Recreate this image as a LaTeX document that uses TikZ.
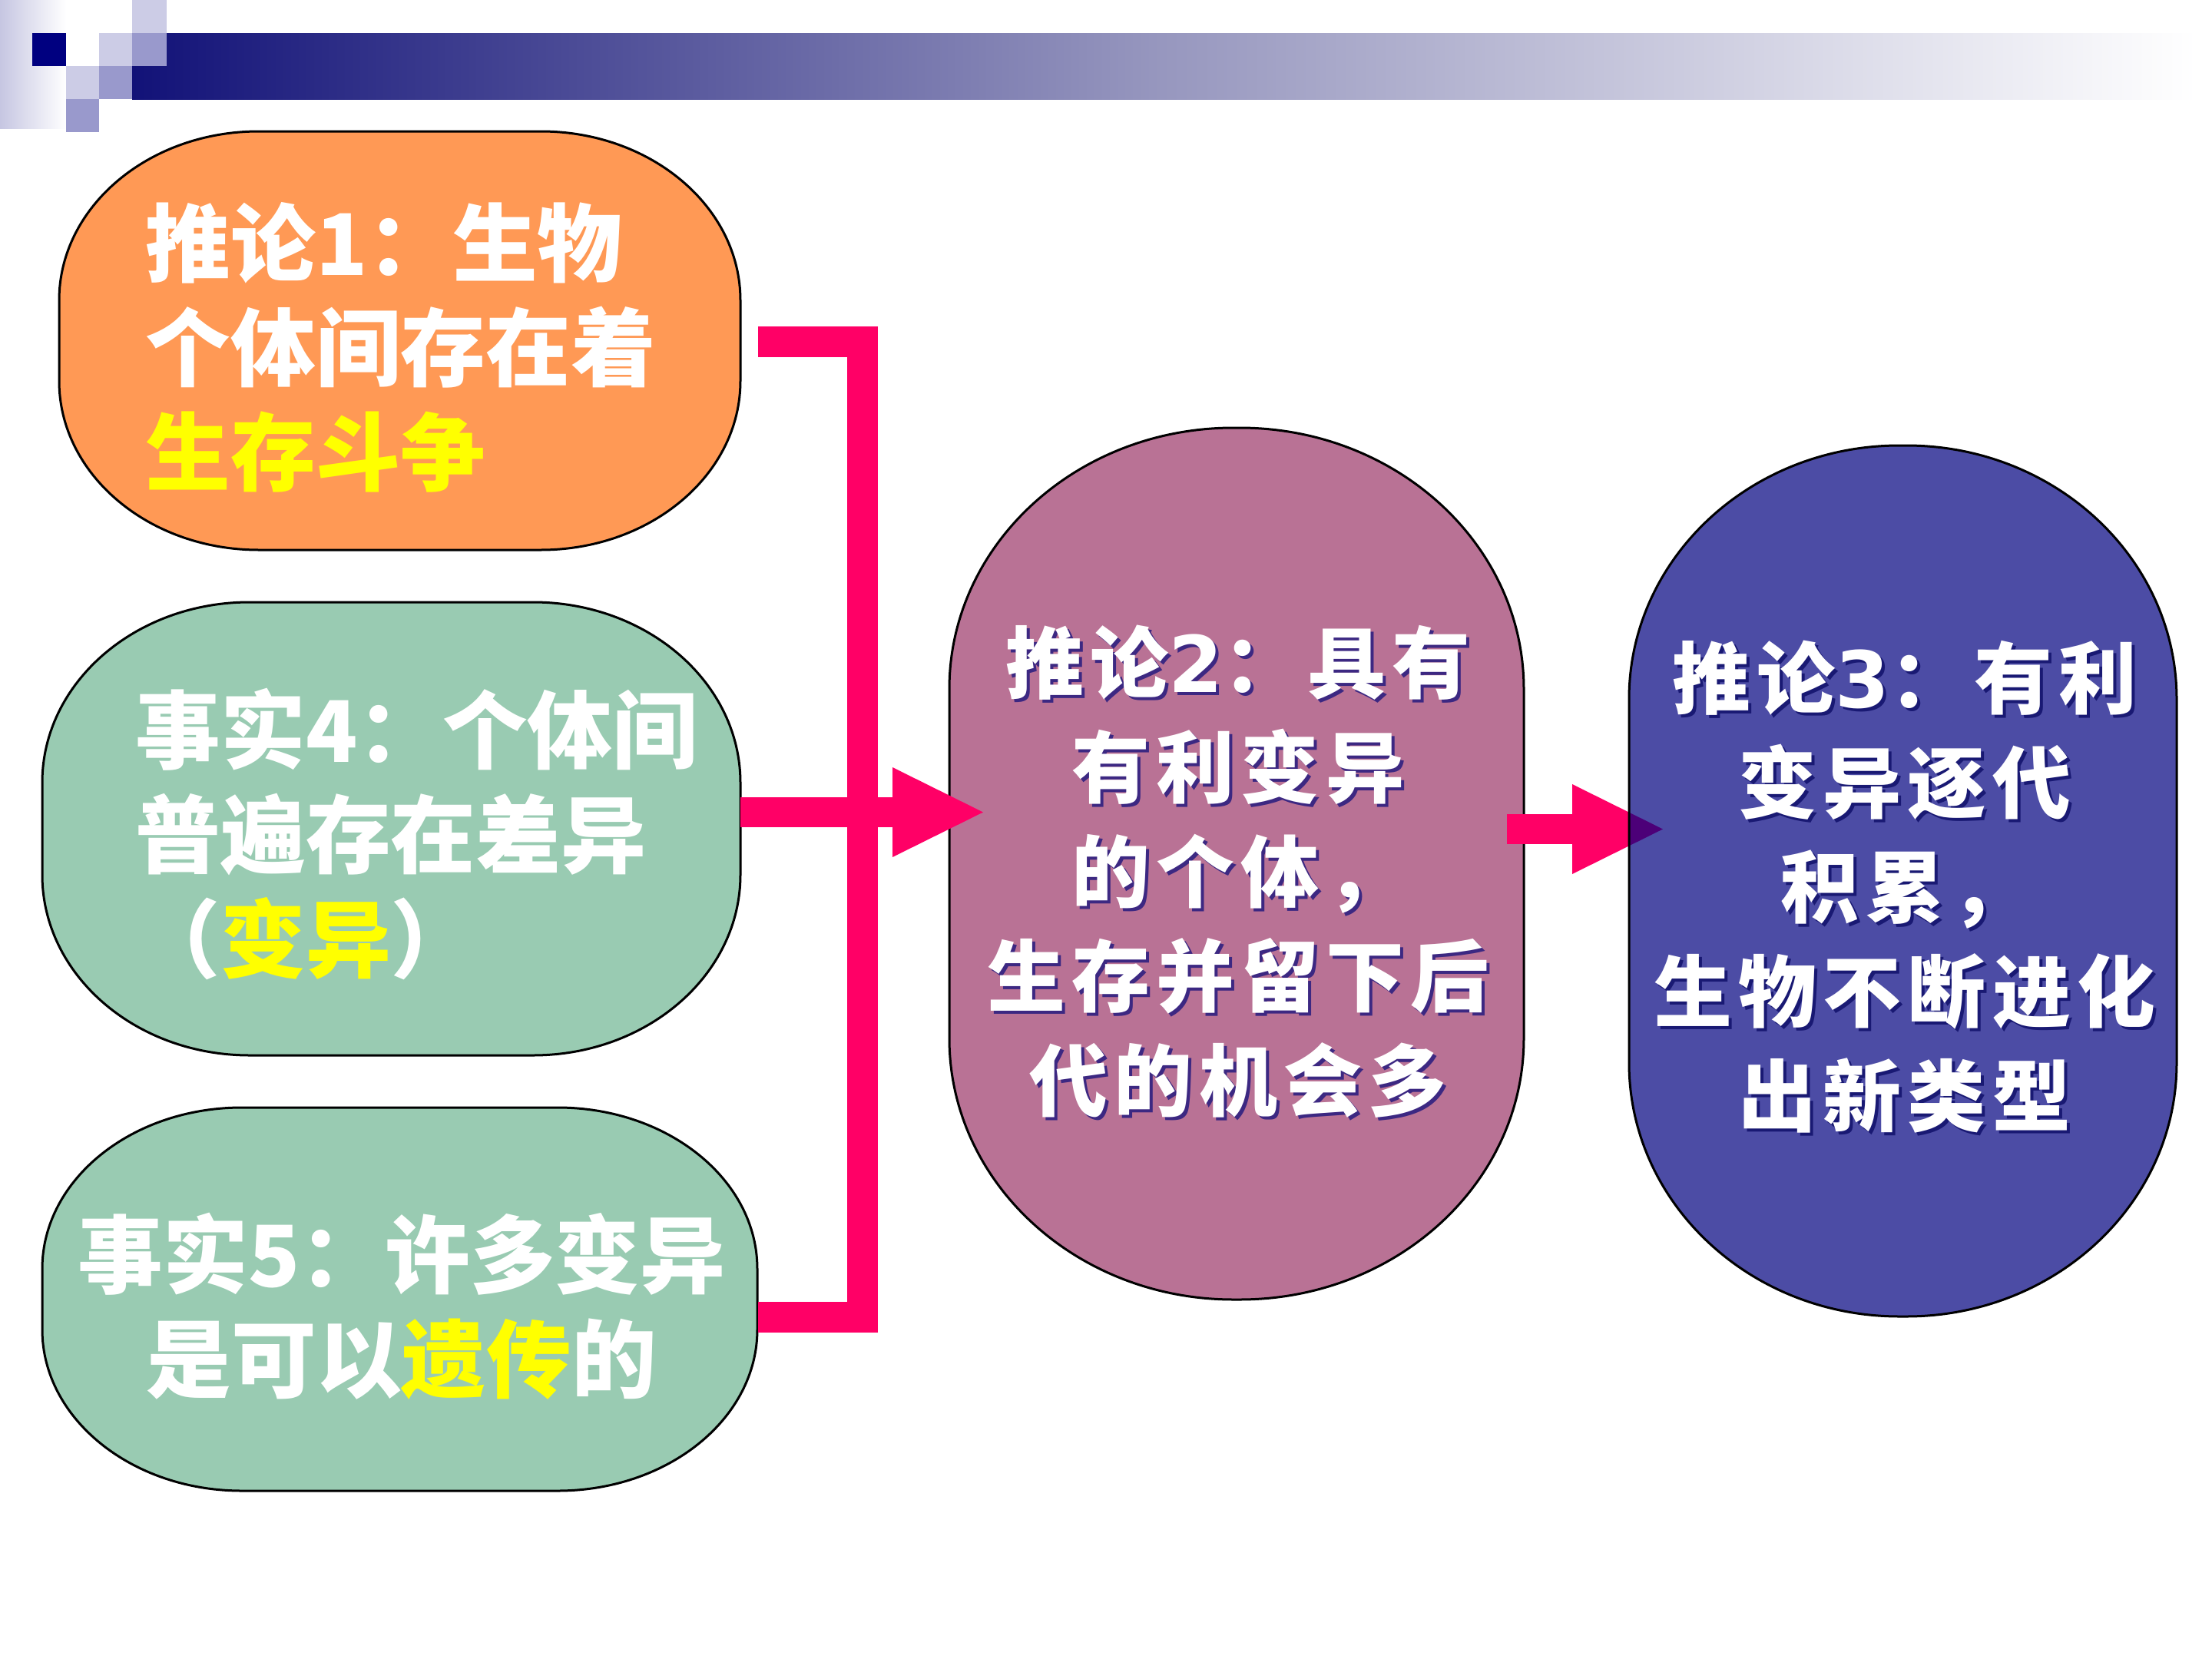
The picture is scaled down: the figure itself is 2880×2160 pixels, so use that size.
\documentclass[tikz,border=0pt]{standalone}
\usepackage{fontspec}
\usetikzlibrary{arrows.meta}
\newfontfamily\cjk{Noto Sans CJK SC Black}
\newfontfamily\cjkw{Noto Sans CJK SC Black}[LetterSpace=8]
\newfontfamily\dvb{DejaVu Sans Bold}
\definecolor{orng}{RGB}{255,153,85}
\definecolor{grn}{RGB}{153,203,178}
\definecolor{mauve}{RGB}{185,114,149}
\definecolor{navyb}{RGB}{0,0,128}
\definecolor{pnk}{RGB}{255,0,102}
\definecolor{ylw}{RGB}{255,255,0}
\definecolor{sqlight}{RGB}{204,204,230}
\definecolor{sqmed}{RGB}{153,153,204}
\definecolor{sqdark}{RGB}{0,0,128}
\definecolor{barL}{RGB}{18,18,120}
\definecolor{barM}{RGB}{150,150,190}
\definecolor{stripL}{RGB}{198,198,226}
\definecolor{shfour}{RGB}{60,40,130}
\definecolor{shfive}{RGB}{25,25,115}
\newcommand{\rrbox}[7]{\path[#1] ({#2+#6},#3) -- ({#4-#6},#3)
  arc[start angle=-90,end angle=0,x radius=#6,y radius=#7] -- (#4,{#5-#7})
  arc[start angle=0,end angle=90,x radius=#6,y radius=#7] -- ({#2+#6},#5)
  arc[start angle=90,end angle=180,x radius=#6,y radius=#7] -- (#2,{#3+#7})
  arc[start angle=180,end angle=270,x radius=#6,y radius=#7] -- cycle;}
\begin{document}
\begin{tikzpicture}[x=0.1mm,y=-0.1mm,
  boxline/.style={draw=black,line width=0.3mm},
  conn/.style={draw=pnk,line width=4mm,line join=miter},
  bigarrow/.style={draw=pnk,line width=3.9mm,-{Triangle[length=11.8mm,width=11.7mm,line width=0pt]}},
  txt/.style={inner sep=0pt,text=white,font=\cjk\fontsize{31.5pt}{38.7pt}\selectfont},
  txtw/.style={inner sep=0pt,text=white,align=center,font=\cjkw\fontsize{29pt}{38.7pt}\selectfont},
  shadowed/.style={xshift=0.4mm,yshift=-0.4mm}]
\useasboundingbox (0,0) rectangle (2880,2160);
\fill[white] (0,0) rectangle (2880,2160);
% top decoration
\shade[left color=stripL,right color=white] (0,0) rectangle (86,167);
\shade[left color=barL,right color=barM] (172,43) rectangle (1500,129);
\shade[left color=barM,right color=white] (1499,43) rectangle (2860,129);
\fill[sqlight] (172,0) rectangle (217,43);
\fill[sqlight] (129,43) rectangle (172,86);
\fill[sqlight] (86,86) rectangle (129,129);
\fill[sqmed] (172,43) rectangle (217,86);
\fill[sqmed] (129,86) rectangle (172,129);
\fill[sqmed] (86,129) rectangle (129,172);
\fill[sqdark] (42,43) rectangle (86,86);
% boxes
\rrbox{boxline,fill=orng}{77}{171}{964}{716}{260}{220}
\rrbox{boxline,fill=grn}{55}{784}{964}{1374}{270}{235}
\rrbox{boxline,fill=grn}{55}{1442}{986}{1941}{260}{210}
\rrbox{boxline,fill=mauve}{1236}{557}{1984}{1692}{370}{340}
% connector coordinates
\coordinate (c1) at (987,444.5);
\coordinate (k1) at (1123,444.5);
\coordinate (k3) at (1123,1715);
\coordinate (c3) at (987,1715);
\coordinate (b2e) at (964,1057.5);
\coordinate (k2) at (1103,1057.5);
\coordinate (k2b) at (1123,1057.5);
\coordinate (t1) at (1280,1057.5);
\coordinate (s2) at (1962,1079.5);
\coordinate (t2) at (2165,1079.5);
\draw[conn] (c1) -- (k1) -- (k3) -- (c3);
\draw[conn,line width=3.9mm] (b2e) -- (k2);
\draw[bigarrow] (k2b) -- (t1);
\draw[bigarrow] (s2) -- (t2);
% box 5 (semi-transparent over the arrow tip)
\rrbox{fill=navyb,fill opacity=0.7}{2121}{580}{2834}{1714}{352}{330}
\rrbox{boxline}{2121}{580}{2834}{1714}{352}{330}
% texts
\node[txt,anchor=west,align=left] (t1txt) at (189,452)
  {推论1：生物\\个体间存在着\\\textcolor{ylw}{生存斗争}};
\node[txt,anchor=west,align=left] (t2txt) at (176,1086)
  {事实4：个体间\\普遍存在差异\\（\textcolor{ylw}{变异}）};
\node[txt,align=center] (t3txt) at (523,1701)
  {事实5：许多变异\\是可以\textcolor{ylw}{遗传}的};
\node[txtw,shadowed,text=shfour] (t4sh) at (1612,1135)
  {推论{\dvb 2}：具有\\有利变异\\的个体，\\生存并留下后\\代的机会多};
\node[txtw] (t4txt) at (1612,1135)
  {推论{\dvb 2}：具有\\有利变异\\的个体，\\生存并留下后\\代的机会多};
\node[txtw,shadowed,text=shfive] (t5sh) at (2480,1155)
  {推论{\dvb 3}：有利\\变异逐代\\积累，\\生物不断进化\\出新类型};
\node[txtw] (t5txt) at (2480,1155)
  {推论{\dvb 3}：有利\\变异逐代\\积累，\\生物不断进化\\出新类型};
\end{tikzpicture}
\end{document}
